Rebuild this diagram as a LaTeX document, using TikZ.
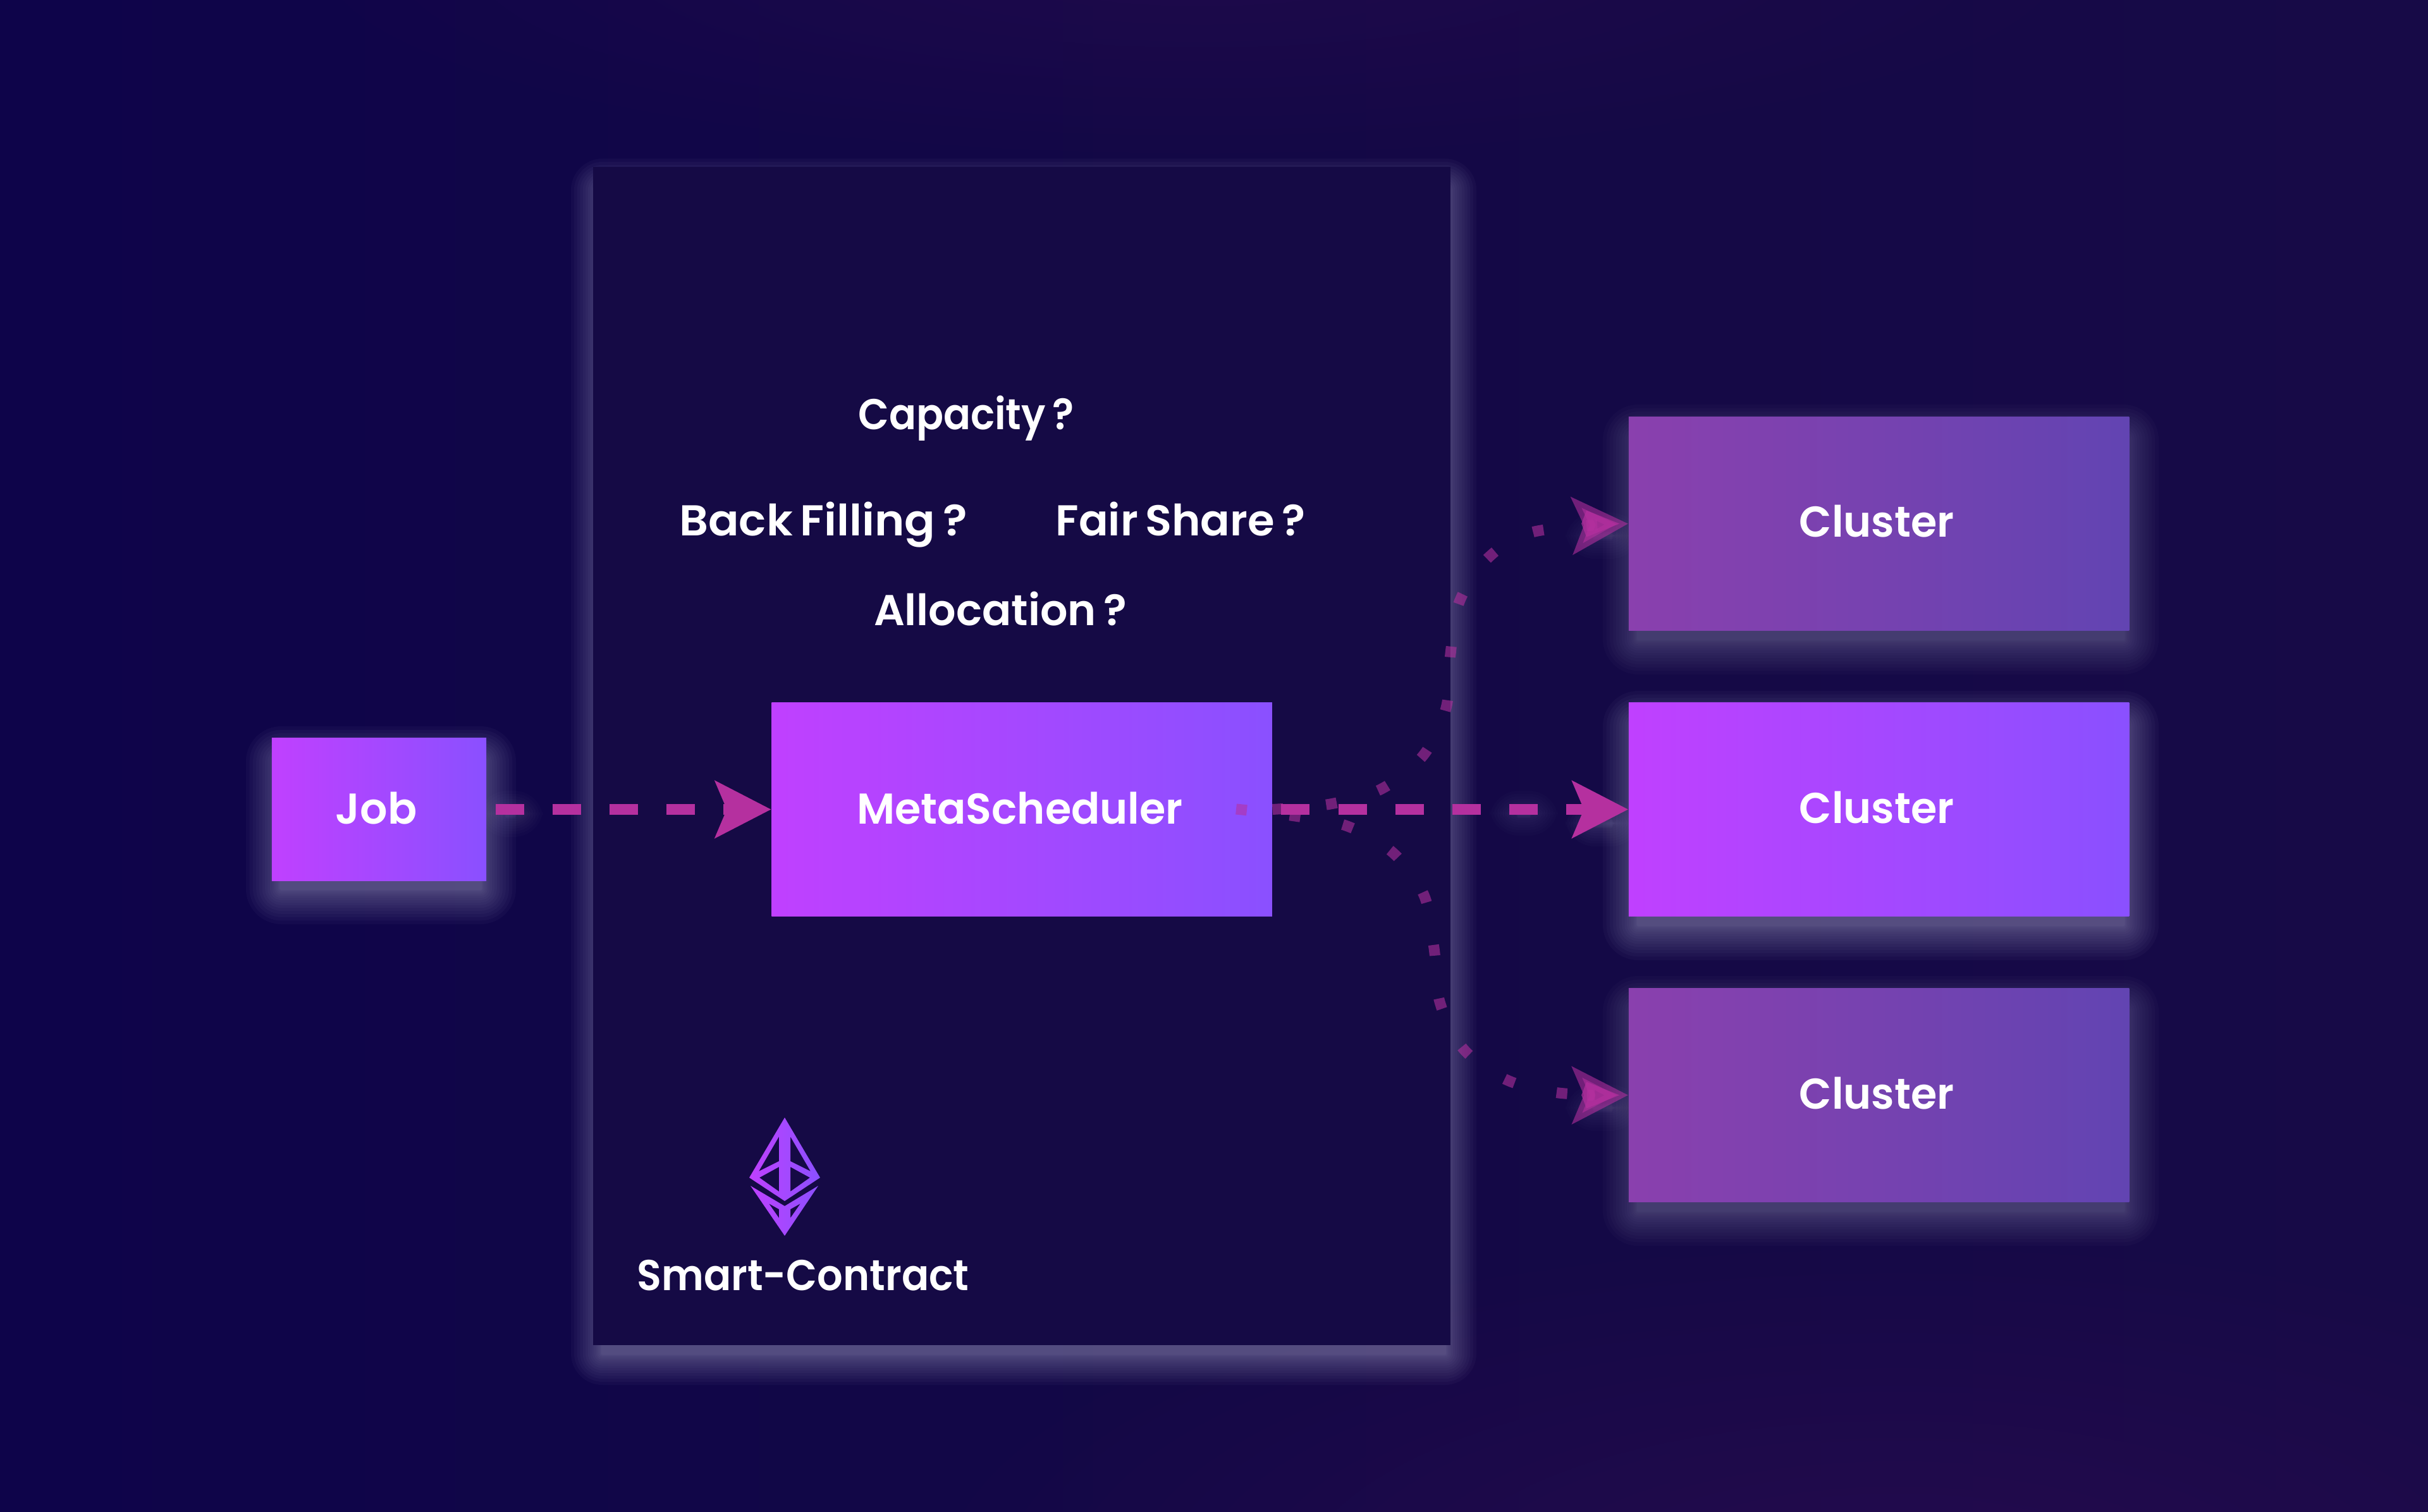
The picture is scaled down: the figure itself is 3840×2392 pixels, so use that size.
\documentclass[tikz,border=0pt]{standalone}
\usepackage{fontspec}
\setmainfont{Poppins SemiBold}[WordSpace=0.7]
\usetikzlibrary{arrows.meta,fadings,calc}
\definecolor{bgleft}{HTML}{0E044A}
\definecolor{bgmid}{HTML}{130846}
\definecolor{bgright}{HTML}{170A47}
\definecolor{bgwarm}{HTML}{2E0C52}
\definecolor{panelfill}{HTML}{150A45}
\definecolor{glowcol}{HTML}{8F8BB5}
\definecolor{gradA}{HTML}{C040FF}
\definecolor{gradB}{HTML}{8A50FF}
\definecolor{dimA}{HTML}{8A40AE}
\definecolor{dimB}{HTML}{6244B2}
\definecolor{flow}{HTML}{B5309F}
\tikzfading[name=softdisc,inner color=transparent!0,outer color=transparent!100]
\tikzset{
  x=0.01cm,y=-0.01cm,
  brightbox/.style={left color=gradA,right color=gradB,minimum height=3.38cm,minimum width=7.91cm,inner sep=0pt},
  dimbox/.style={brightbox,left color=dimA,right color=dimB},
  boxtext/.style={text=white,font=\fontsize{19.4pt}{24pt}\selectfont,anchor=base,inner sep=0pt},
  flowline/.style={draw=flow,line width=0.17cm,dash pattern=on 0.45cm off 0.45cm,dash phase=0.76cm,
    -{Stealth[length=0.88cm,width=0.89cm,inset=0.18cm,color=flow]}},
  branch/.style={draw=flow,opacity=.58,line width=0.17cm,dash pattern=on 0.17cm off 0.682cm,
    -{Stealth[length=0.88cm,width=0.89cm,inset=0.18cm,color=flow]}},
  headcore/.style={fill=flow,opacity=.7},
}
% Soft drop glow: stacked translucent rounded rectangles, packed densely near the core
\newcommand{\softglow}[6]{%
  \foreach \k in {0,...,15}{%
    \pgfmathsetmacro\d{-10+(#6+10)*((15-\k)/15)^1.6}%
    \pgfmathsetmacro\r{max(\d+12,2)*0.01}%
    \fill[glowcol,fill opacity=#5,rounded corners=\r cm]
      ({#1-\d},{#2-\d}) rectangle ({#3+\d},{#4+\d});
  }%
}
\begin{document}
\begin{tikzpicture}
\useasboundingbox (0,0) rectangle (3840,2392);
% backdrop
\begin{scope}
  \clip (0,0) rectangle (3840,2392);
  \shade[left color=bgleft,right color=bgright,middle color=bgmid] (0,0) rectangle (3840,2392);
  \fill[bgwarm,path fading=softdisc,fill opacity=.6] (3000,2500) ellipse [x radius=1600,y radius=560];
  \fill[bgwarm,path fading=softdisc,fill opacity=.42] (1900,-60) ellipse [x radius=1500,y radius=330];
\end{scope}

% glows under boxes and flow marks
\softglow{941}{289}{2297}{2153}{.05}{38}
\softglow{433}{1193}{772}{1418}{.05}{44}
\softglow{2579}{684}{3370}{1023}{.034}{44}
\softglow{2579}{1137}{3370}{1475}{.05}{44}
\softglow{2579}{1588}{3370}{1927}{.034}{44}
\softglow{790}{1285}{825}{1290}{.028}{34}
\softglow{2390}{1285}{2430}{1288}{.022}{34}
\softglow{2510}{1300}{2560}{1305}{.03}{34}
\softglow{2510}{845}{2560}{850}{.022}{34}
\softglow{2510}{1750}{2560}{1755}{.022}{34}

% smart-contract panel
\fill[panelfill] (938,264) rectangle (2294,2128);
\node[boxtext] (capacity) at (1528,680) {\scalebox{.93}[1]{Capacity ?}};
\node[boxtext] (backfill) at (1302,848) {\scalebox{1.05}[1]{Back Filling ?}};
\node[boxtext] (fairshare) at (1867,848) {\scalebox{1.01}[1]{Fair Share ?}};
\node[boxtext] (allocation) at (1582,990) {\scalebox{1}[1]{Allocation ?}};
\node[boxtext] (contract) at (1270,2041) {\scalebox{.935}[1]{Smart-Contract}};

% Ethereum mark
\shade[left color=gradA,right color=gradB,even odd rule]
  (1241,1768) -- (1297,1863) -- (1241,1900) -- (1185,1863) -- cycle
  (1232,1798) -- (1232,1837) -- (1200,1853) -- cycle
  (1250,1798) -- (1250,1837) -- (1282,1853) -- cycle
  (1232,1846) -- (1232,1885) -- (1201,1863) -- cycle
  (1250,1846) -- (1250,1885) -- (1281,1863) -- cycle
  (1187,1876) -- (1241,1908) -- (1294,1876) -- (1241,1955) -- cycle
  (1216,1904) -- (1232,1913) -- (1232,1927) -- cycle
  (1266,1904) -- (1250,1913) -- (1250,1927) -- cycle;

% boxes
\node[brightbox,minimum width=3.39cm,minimum height=2.25cm] (job) at (599.5,1280.5) {};
\node[boxtext] (jobtext) at (595,1303) {Job};
\node[brightbox] (meta) at (1616,1280.5) {};
\node[boxtext] (metatext) at (1613,1303) {\scalebox{.98}[1]{MetaScheduler}};
\node[dimbox] (clusterA) at (2971.5,828.5) {};
\node[brightbox] (clusterB) at (2971.5,1280.5) {};
\node[dimbox] (clusterC) at (2971.5,1732.5) {};
\node[boxtext] (clusterAtext) at (2968,850) {\scalebox{.98}[1]{Cluster}};
\node[boxtext] (clusterBtext) at (2968,1302) {\scalebox{.98}[1]{Cluster}};
\node[boxtext] (clusterCtext) at (2968,1754) {\scalebox{.98}[1]{Cluster}};

% connectors
\coordinate (forkstart) at (1955,1280);
\draw[branch] plot[smooth,tension=.55] coordinates {(meta.east) (2104,1272) (2185,1248) (2251,1195) (2287,1120) (2294,1034) (2308,952) (2354,882) (2427,841) (clusterA.west)};
\draw[branch] plot[smooth,tension=.55] coordinates {(forkstart) (2048,1291) (2131,1307) (2203,1349) (2252,1416) (2268,1500) (2277,1585) (2314,1659) (2382,1708) (2465,1729) (clusterC.west)};
\draw[flowline] (job.east) -- (meta.west);
\draw[flowline] (meta.east) -- (clusterB.west);
% brighter core of the two faded arrowheads
\fill[headcore] ($(clusterA.west)+(-14,0)$) -- ++(-52,-21) -- ++(-8,21) -- ++(8,21) -- cycle;
\fill[headcore] ($(clusterC.west)+(-14,0)$) -- ++(-52,-21) -- ++(-8,21) -- ++(8,21) -- cycle;
\end{tikzpicture}
\end{document}
